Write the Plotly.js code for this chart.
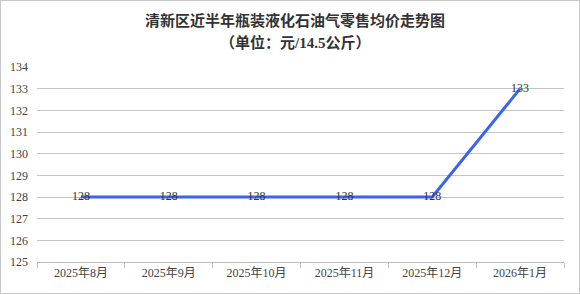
<!DOCTYPE html>
<html>
<head>
<meta charset="utf-8">
<script src="https://cdn.plot.ly/plotly-3.0.1.min.js"></script>
<style>
  html, body { margin: 0; padding: 0; background: #fff; }
  #chart { width: 578px; height: 292px; border: 1px solid #c8c8c8; }
</style>
</head>
<body>
<div id="chart"></div>
<script>
// Monthly average retail price of bottled LPG (yuan per 14.5 kg)
const months = ['2025年8月', '2025年9月', '2025年10月', '2025年11月', '2025年12月', '2026年1月'];
const prices = [128, 128, 128, 128, 128, 133];
const yTicks = [125, 126, 127, 128, 129, 130, 131, 132, 133, 134];
const titleLines = ['清新区近半年瓶装液化石油气零售均价走势图', '（单位：元/14.5公斤）'];

const serif = '"Liberation Serif", "Times New Roman", "Noto Sans CJK SC", serif';

const trace = {
  x: months,
  y: prices,
  type: 'scatter',
  mode: 'lines+text',
  line: { color: '#3a63f5', width: 3 },
  text: prices.map(String),
  textposition: 'middle center',
  textfont: { family: serif, size: 12, color: '#333' },
  hoverinfo: 'x+y',
  cliponaxis: false
};

// Two-line heading placed above the plot area
const titleY = [1.241, 1.128];
const annotations = titleLines.map((t, i) => ({
  text: '<b>' + t + '</b>',
  xref: 'paper', yref: 'paper',
  x: 0.49, y: titleY[i],
  xanchor: 'center', yanchor: 'middle',
  showarrow: false,
  font: { family: serif, size: 15, color: '#333' }
}));

const layout = {
  width: 578,
  height: 292,
  margin: { l: 36, r: 15, t: 66, b: 31 },
  paper_bgcolor: '#fff',
  plot_bgcolor: '#fff',
  showlegend: false,
  annotations: annotations,
  xaxis: {
    type: 'category',
    range: [-0.5, 5.5],
    tickson: 'boundaries',
    ticks: 'outside',
    ticklen: 5,
    tickcolor: '#bbb',
    showline: true,
    linecolor: '#bbb',
    linewidth: 1,
    showgrid: false,
    zeroline: false,
    tickfont: { family: serif, size: 12, color: '#444' }
  },
  yaxis: {
    range: [125, 134],
    tickvals: yTicks,
    ticktext: yTicks.map(String),
    showgrid: true,
    gridcolor: '#c4c4c4',
    gridwidth: 1,
    showline: false,
    zeroline: false,
    ticks: '',
    ticklabelstandoff: 8,
    tickfont: { family: serif, size: 12, color: '#444' }
  }
};

Plotly.newPlot('chart', [trace], layout, { staticPlot: true, displayModeBar: false });
</script>
</body>
</html>
